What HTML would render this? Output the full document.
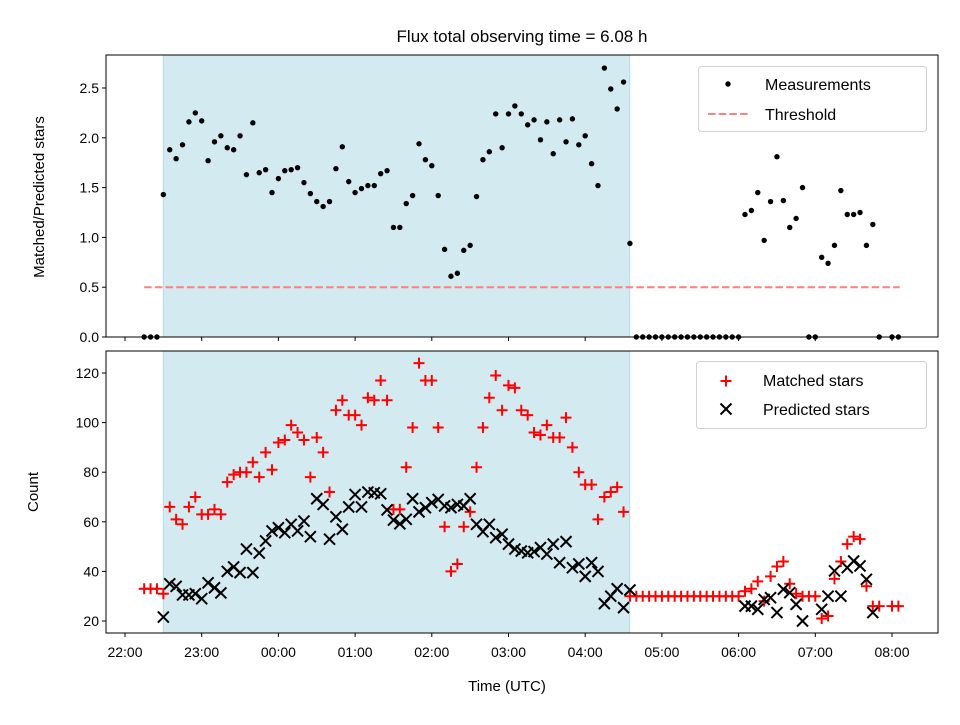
<!DOCTYPE html>
<html><head><meta charset="utf-8"><style>
body{margin:0;background:#fff;}
svg text{font-family:"Liberation Sans","DejaVu Sans",sans-serif;fill:#000;}
</style></head><body>
<svg id="chart" width="960" height="720" xmlns="http://www.w3.org/2000/svg"></svg>
<script>
// start 22:15, 5-minute cadence
const startHour = 22.25;
const stepMin = 5;
const ratio = [0,0,0,
1.43,1.88,1.79,1.93,2.16,2.25,2.17,1.77,1.96,2.02,
1.90,1.88,2.02,1.63,2.15,1.65,1.68,1.45,1.59,1.67,
1.68,1.70,1.55,1.44,1.36,1.31,1.36,1.69,1.91,1.56,
1.45,1.49,1.52,1.52,1.64,1.67,1.10,1.10,1.34,1.42,
1.94,1.78,1.72,1.42,0.88,0.61,0.64,0.87,0.92,1.41,
1.78,1.86,2.24,1.90,2.24,2.32,2.24,2.13,2.18,1.98,
2.16,1.84,2.18,1.96,2.19,1.93,2.02,1.74,1.52,2.70,
2.49,2.29,2.56,0.94,
0,0,0,0,0,0,0,0,0,0,0,0,0,0,0,0,0,
1.23,1.27,1.45,0.97,1.36,1.81,1.37,1.10,1.19,1.50,0,0,0.80,0.74,0.92,1.47,1.23,1.23,1.25,0.92,1.13,0,null,0,0];
const matched = [33,33,33,
31,66,61,59,66,70,63,63,65,63,
76,79,80,80,84,78,88,81,92,93,
99,96,93,78,94,88,72,105,109,103,
103,99,110,109,117,109,65,65,82,98,
124,117,117,98,58,40,43,58,64,82,
98,110,119,105,115,114,105,103,96,95,
99,94,94,102,90,80,75,75,61,70,
72,74,64,30,
30,30,30,30,30,30,30,30,30,30,30,30,30,30,30,30,30,
32,33,36,28,38,42,44,35,31,30,30,30,21,22,37,44,51,54,53,34,26,26,null,26,26];
const predicted = [null,null,null,
21.6,35,34,30.5,30.5,31,29,35.4,33.4,31.3,
40,41.8,39.5,49,39.5,47.4,52.3,56.3,57.6,55.6,
59,56.3,60.3,54,69.3,67,53,62,57,66,
71,66,72,71.7,71.3,64.8,60.7,59.2,61,69.3,
64,65.7,67.7,69,66.4,65.7,67,66.4,69.3,59,
56,59,53.6,55,51,49,48.2,47.5,48,49.6,
47,51,43.5,52,41.5,43,38,43.5,40,27,
30,33,25.4,32.5,
null,null,null,null,null,null,null,null,null,null,null,null,null,null,null,null,null,
26,26,24.7,28.7,29.4,23.4,32.8,31.4,26.7,20,null,null,24.7,30,40.2,30,41.5,44.2,42.2,36.8,23.4,null,null,null,null];
const xTickLabels = ["22:00","23:00","00:00","01:00","02:00","03:00","04:00","05:00","06:00","07:00","08:00"];
const topTicks = [0.0,0.5,1.0,1.5,2.0,2.5];
const botTicks = [20,40,60,80,100,120];
const threshold = 0.5;
const shadeStart = 22.5, shadeEnd = 28.58;
const thrStart = 22.25, thrEnd = 32.1;

const NS="http://www.w3.org/2000/svg";
const svg=document.getElementById('chart');
function el(tag,attrs,parent){const e=document.createElementNS(NS,tag);for(const k in attrs)e.setAttribute(k,attrs[k]);(parent||svg).appendChild(e);return e;}
const L=106,R=938;
const X=h=>125+(h-22)*76.7;
const tT=55,tB=337,bT=351,bB=633;
const Yt=v=>337-v*99.6;
const Yb=v=>621-(v-20)*2.48;
const hourAt=i=>startHour+i*stepMin/60;

function axesFrame(top,bot,name){
  const g=el('g',{});
  
  
  const s=el('rect',{x:X(shadeStart),y:top,width:X(shadeEnd)-X(shadeStart),height:bot-top,fill:'#d4eaf1',stroke:'#b8dbe6','stroke-width':1},g);
  
  
  return g;
}
const gTop=axesFrame(tT,tB,'top-panel');
const gBot=axesFrame(bT,bB,'bottom-panel');

const thr=el('line',{x1:X(thrStart),x2:X(thrEnd),y1:Yt(threshold),y2:Yt(threshold),stroke:'#ff7f7f','stroke-width':2,'stroke-dasharray':'7.5,3.2'},gTop);



ratio.forEach((v,i)=>{ if(v===null)return;
  const c=el('circle',{cx:X(hourAt(i)),cy:Yt(v),r:2.7,fill:'#000'},gTop);
  
  
});
matched.forEach((v,i)=>{ if(v===null)return;
  const x=X(hourAt(i)),y=Yb(v);
  const p=el('path',{d:`M${x-5.5},${y}H${x+5.5}M${x},${y-5.5}V${y+5.5}`,stroke:'#f00','stroke-width':2,fill:'none'},gBot);
  
  
});
predicted.forEach((v,i)=>{ if(v===null)return;
  const x=X(hourAt(i)),y=Yb(v),d=5.5;
  const p=el('path',{d:`M${x-d},${y-d}L${x+d},${y+d}M${x-d},${y+d}L${x+d},${y-d}`,stroke:'#000','stroke-width':2,fill:'none'},gBot);
  
  
});

[[tT,tB],[bT,bB]].forEach(([t,b])=>{
  const f=el('rect',{x:L,y:t,width:R-L,height:b-t,fill:'none',stroke:'#000','stroke-width':1});
  
  
});
xTickLabels.forEach((lab,k)=>{
  const x=X(22+k);
  el('line',{x1:x,x2:x,y1:tB,y2:tB+4,stroke:'#000'});
  el('line',{x1:x,x2:x,y1:bB,y2:bB+4,stroke:'#000'});
  const t=el('text',{x:x,y:bB+24,'font-size':14,'text-anchor':'middle'});
  t.textContent=lab;
  
  
});
topTicks.forEach(v=>{
  const y=Yt(v);
  el('line',{x1:L-4,x2:L,y1:y,y2:y,stroke:'#000'});
  const t=el('text',{x:L-7,y:y+5,'font-size':14,'text-anchor':'end'});
  t.textContent=v.toFixed(1);
  
  
});
botTicks.forEach(v=>{
  const y=Yb(v);
  el('line',{x1:L-4,x2:L,y1:y,y2:y,stroke:'#000'});
  const t=el('text',{x:L-7,y:y+5,'font-size':14,'text-anchor':'end'});
  t.textContent=v;
  
  
});
</script>
<svg width="960" height="720" style="position:absolute;left:0;top:0" xmlns="http://www.w3.org/2000/svg">
<text x="522" y="42" font-size="17" text-anchor="middle">Flux total observing time = 6.08 h</text>
<text transform="translate(44,197) rotate(-90)" font-size="15" text-anchor="middle">Matched/Predicted stars</text>
<text transform="translate(38,492) rotate(-90)" font-size="15" text-anchor="middle">Count</text>
<text x="507" y="691" font-size="15" text-anchor="middle">Time (UTC)</text>
<g>
<rect x="698.5" y="66.5" width="228" height="65" rx="3" fill="#fff" fill-opacity="0.8" stroke="#d0d0d0"/>
<circle cx="728" cy="84" r="2.7" fill="#000"/>
<text x="765" y="90" font-size="16">Measurements</text>
<line x1="708" x2="748" y1="114" y2="114" stroke="#ff7f7f" stroke-width="2" stroke-dasharray="7.5,3.2"/>
<text x="765" y="120" font-size="16">Threshold</text>
</g>
<g>
<rect x="696.5" y="361.5" width="230" height="67" rx="3" fill="#fff" fill-opacity="0.8" stroke="#d0d0d0"/>
<path d="M720.5,381H731.5M726,375.5V386.5" stroke="#f00" stroke-width="2"/>
<text x="763" y="386" font-size="16">Matched stars</text>
<path d="M720.5,403.5L731.5,414.5M720.5,414.5L731.5,403.5" stroke="#000" stroke-width="2"/>
<text x="763" y="415" font-size="16">Predicted stars</text>
</g>
</svg>
</body></html>
